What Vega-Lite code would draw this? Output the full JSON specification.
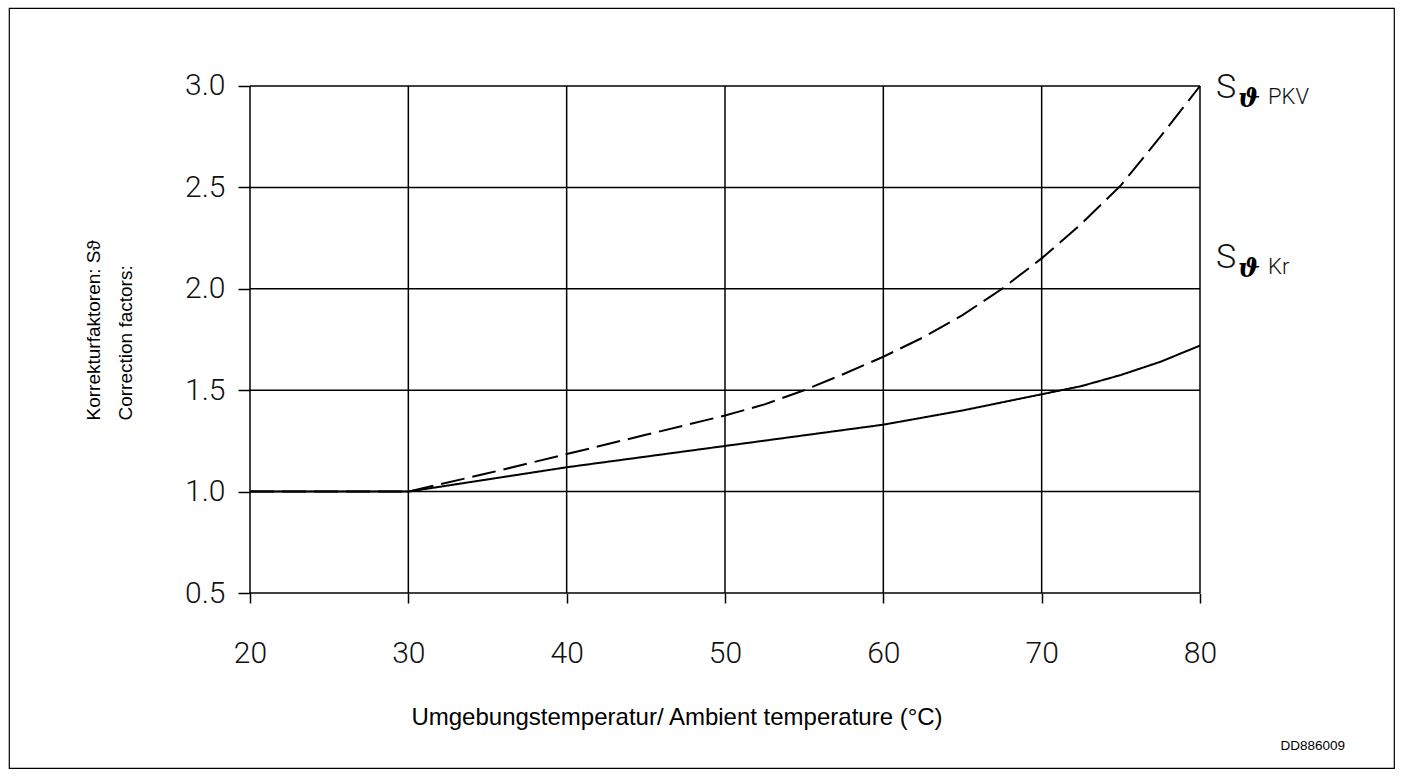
{
  "$schema": "https://vega.github.io/schema/vega-lite/v6.json",
  "width": 1385,
  "height": 760,
  "autosize": {"type": "none"},
  "padding": {"left": 9, "top": 8, "right": 9, "bottom": 10},
  "background": "white",
  "config": {
    "view": {"stroke": "black", "strokeWidth": 1.2},
    "text": {"color": "black"}
  },
  "title": {
    "text": "DD886009",
    "orient": "bottom",
    "anchor": "end",
    "frame": "group",
    "offset": -29,
    "dx": -49,
    "font": "Liberation Sans",
    "fontSize": 13.5,
    "fontWeight": "normal",
    "color": "black"
  },
  "datasets": {
    "gridX": [{"temp": 20}, {"temp": 30}, {"temp": 40}, {"temp": 50}, {"temp": 60}, {"temp": 70}, {"temp": 80}],
    "gridY": [{"factor": 0.5}, {"factor": 1.0}, {"factor": 1.5}, {"factor": 2.0}, {"factor": 2.5}, {"factor": 3.0}],
    "curves": [
      {"series": "PKV", "temp": 20, "factor": 1.0},
      {"series": "PKV", "temp": 30, "factor": 1.0},
      {"series": "PKV", "temp": 35, "factor": 1.09},
      {"series": "PKV", "temp": 40, "factor": 1.185},
      {"series": "PKV", "temp": 45, "factor": 1.28},
      {"series": "PKV", "temp": 50, "factor": 1.375},
      {"series": "PKV", "temp": 52.5, "factor": 1.43},
      {"series": "PKV", "temp": 55, "factor": 1.5},
      {"series": "PKV", "temp": 57.5, "factor": 1.58},
      {"series": "PKV", "temp": 60, "factor": 1.665},
      {"series": "PKV", "temp": 62.5, "factor": 1.76},
      {"series": "PKV", "temp": 65, "factor": 1.87},
      {"series": "PKV", "temp": 67.5, "factor": 2.0},
      {"series": "PKV", "temp": 70, "factor": 2.15},
      {"series": "PKV", "temp": 72.5, "factor": 2.32},
      {"series": "PKV", "temp": 75, "factor": 2.51},
      {"series": "PKV", "temp": 77.5, "factor": 2.75},
      {"series": "PKV", "temp": 80, "factor": 3.0},
      {"series": "Kr", "temp": 20, "factor": 1.0},
      {"series": "Kr", "temp": 30, "factor": 1.0},
      {"series": "Kr", "temp": 40, "factor": 1.12},
      {"series": "Kr", "temp": 50, "factor": 1.225},
      {"series": "Kr", "temp": 60, "factor": 1.33},
      {"series": "Kr", "temp": 65, "factor": 1.4},
      {"series": "Kr", "temp": 70, "factor": 1.48},
      {"series": "Kr", "temp": 72.5, "factor": 1.52},
      {"series": "Kr", "temp": 75, "factor": 1.575},
      {"series": "Kr", "temp": 77.5, "factor": 1.64},
      {"series": "Kr", "temp": 80, "factor": 1.72}
    ],
    "labels": [
      {"series": "PKV", "temp": 80, "factor": 2.99, "sub": "PKV"},
      {"series": "Kr", "temp": 80, "factor": 2.15, "sub": "Kr"}
    ]
  },
  "layer": [
    {
      "data": {"name": "curves"},
      "mark": {"type": "line", "stroke": "black", "strokeWidth": 2},
      "encoding": {
        "x": {
          "field": "temp", "type": "quantitative",
          "scale": {"domain": [4.779, 92.253], "nice": false, "zero": false},
          "axis": {
            "orient": "bottom", "offset": -175, "values": [20, 30, 40, 50, 60, 70, 80], "format": "d",
            "domain": false, "grid": false, "ticks": true, "tickSize": 10, "tickColor": "black", "tickWidth": 1.5,
            "labelFont": "Roboto", "labelFontWeight": 300, "labelFontSize": 30, "labelColor": "#111", "labelPadding": 35,
            "labelOverlap": false, "labelBound": false, "labelFlush": false,
            "title": "Umgebungstemperatur/ Ambient temperature (°C)",
            "titleFont": "Liberation Sans", "titleFontSize": 24, "titleFontWeight": "normal", "titleColor": "black",
            "titleX": 667.5, "titleY": 124, "titleAlign": "center", "titleBaseline": "middle"
          }
        },
        "y": {
          "field": "factor", "type": "quantitative",
          "scale": {"domain": [-0.3629, 3.3846], "nice": false, "zero": false},
          "axis": {
            "orient": "left", "offset": -241, "values": [0.5, 1.0, 1.5, 2.0, 2.5, 3.0], "format": ".1f",
            "domain": false, "grid": false, "ticks": true, "tickSize": 12, "tickColor": "black", "tickWidth": 1.5,
            "labelFont": "Roboto", "labelFontWeight": 300, "labelFontSize": 30, "labelColor": "#111", "labelPadding": 13,
            "labelOverlap": false, "labelBound": false, "labelFlush": false, "labelBaseline": "middle",
            "title": ["Korrekturfaktoren: Sϑ", "Correction factors:"],
            "titleFont": "Liberation Sans", "titleFontSize": 19, "titleFontWeight": "normal", "titleColor": "black",
            "titleAngle": 270, "titleAlign": "left", "titleBaseline": "middle", "titleLineHeight": 32,
            "titleX": -157, "titleY": 412
          }
        },
        "detail": {"field": "series", "type": "nominal"},
        "strokeDash": {
          "field": "series", "type": "nominal",
          "scale": {"domain": ["PKV", "Kr"], "range": [[24, 8], [1, 0]]},
          "legend": null
        }
      }
    },
    {
      "data": {"name": "gridX"},
      "mark": {"type": "rule", "stroke": "black", "strokeWidth": 1.5},
      "encoding": {
        "x": {"field": "temp", "type": "quantitative"},
        "y": {"datum": 0.5, "type": "quantitative"},
        "y2": {"datum": 3.0}
      }
    },
    {
      "data": {"name": "gridY"},
      "mark": {"type": "rule", "stroke": "black", "strokeWidth": 1.5},
      "encoding": {
        "y": {"field": "factor", "type": "quantitative"},
        "x": {"datum": 20, "type": "quantitative"},
        "x2": {"datum": 80}
      }
    },
    {
      "data": {"name": "labels"},
      "mark": {"type": "text", "text": "S", "align": "left", "baseline": "middle", "dx": 16, "font": "Roboto", "fontWeight": 300, "fontSize": 34, "color": "#111"},
      "encoding": {
        "x": {"field": "temp", "type": "quantitative"},
        "y": {"field": "factor", "type": "quantitative"}
      }
    },
    {
      "data": {"name": "labels"},
      "mark": {"type": "text", "text": "ϑ", "align": "left", "baseline": "middle", "dx": 38, "dy": 11, "font": "DejaVu Serif", "fontStyle": "italic", "fontWeight": "bold", "fontSize": 26, "color": "black"},
      "encoding": {
        "x": {"field": "temp", "type": "quantitative"},
        "y": {"field": "factor", "type": "quantitative"}
      }
    },
    {
      "data": {"name": "labels"},
      "mark": {"type": "text", "align": "left", "baseline": "middle", "dx": 68, "dy": 9, "font": "Roboto", "fontWeight": 300, "fontSize": 22, "color": "#111"},
      "encoding": {
        "x": {"field": "temp", "type": "quantitative"},
        "y": {"field": "factor", "type": "quantitative"},
        "text": {"field": "sub", "type": "nominal"}
      }
    }
  ]
}
